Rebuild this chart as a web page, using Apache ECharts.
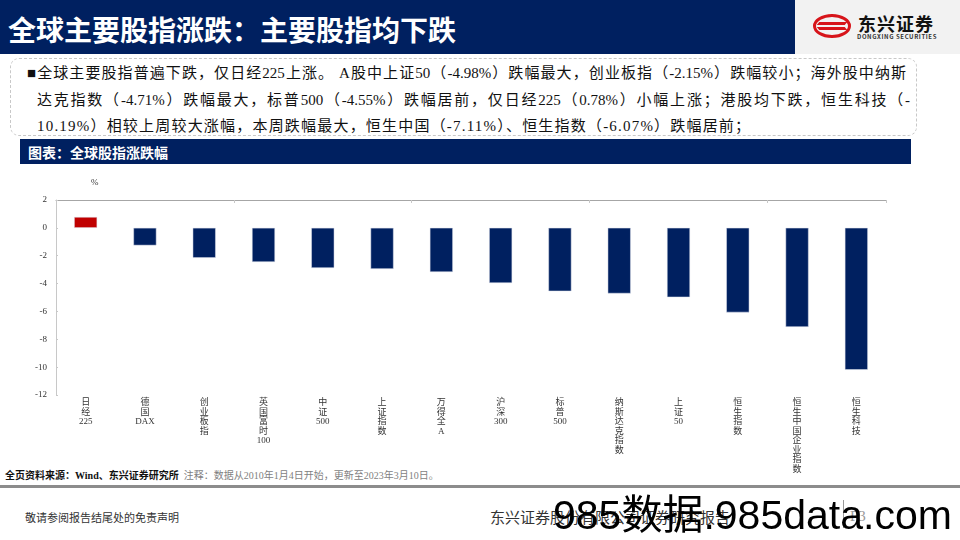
<!DOCTYPE html>
<html>
<head>
<meta charset="utf-8">
<script src="https://cdn.jsdelivr.net/npm/echarts@6/dist/echarts.min.js"></script>
<style>
  html, body { margin:0; padding:0; width:960px; height:540px; overflow:hidden; background:#fff; }
  .abs { position:absolute; }
  #chart { position:absolute; left:0; top:0; width:960px; height:540px; }
  .cn { font-family: "Liberation Serif", "Noto Sans CJK SC", serif; }
  .sans { font-family: "Noto Sans CJK SC", "Liberation Sans", sans-serif; }
  .jline { white-space:nowrap; text-align:justify; text-align-last:justify; }
</style>
</head>
<body>
<div class="abs" style="left:0;top:0;width:795px;height:54px;background:#002060;"></div>
<div class="abs" style="left:795px;top:0;width:165px;height:54px;background:#f2f2f2;"></div>
<div class="abs sans" style="left:8px;top:10px;font-size:28px;font-weight:bold;color:#fff;line-height:38px;white-space:nowrap;">全球主要股指涨跌：主要股指均下跌</div>
<!-- logo -->
<div class="abs" style="left:813px;top:14px;width:38px;height:24px;border:3px solid #d7141a;border-radius:50%;box-sizing:border-box;"></div>
<div class="abs" style="left:818px;top:22px;width:28px;height:3px;background:#d7141a;transform:skewX(-40deg);"></div>
<div class="abs" style="left:818px;top:27px;width:28px;height:3px;background:#d7141a;transform:skewX(40deg);"></div>
<div class="abs sans" style="left:858px;top:12px;font-size:18px;font-weight:bold;color:#111;line-height:22px;white-space:nowrap;letter-spacing:1px;">东兴证券</div>
<div class="abs sans" style="left:857px;top:33px;font-size:6px;font-weight:bold;color:#333;line-height:8px;white-space:nowrap;letter-spacing:0.6px;">DONGXING SECURITIES</div>

<!-- text box -->
<div class="abs" style="left:10px;top:58px;width:907px;height:78px;border:1px dashed #c8c8c8;border-radius:9px;box-sizing:border-box;"></div>
<div class="abs cn jline" style="left:27px;top:63px;width:879px;font-size:15px;line-height:20px;color:#111;">■全球主要股指普遍下跌，仅日经225上涨。 A股中上证50（-4.98%）跌幅最大，创业板指（-2.15%）跌幅较小；海外股中纳斯</div>
<div class="abs cn jline" style="left:37px;top:90px;width:873px;font-size:15px;line-height:20px;color:#111;">达克指数（-4.71%）跌幅最大，标普500（-4.55%）跌幅居前，仅日经225（0.78%）小幅上涨；港股均下跌，恒生科技（-</div>
<div class="abs cn" style="left:37px;top:116px;font-size:15px;line-height:20px;color:#111;white-space:nowrap;letter-spacing:1.2px;">10.19%）相较上周较大涨幅，本周跌幅最大，恒生中国（-7.11%）、恒生指数（-6.07%）跌幅居前；</div>

<!-- section header -->
<div class="abs" style="left:20px;top:139px;width:891px;height:25px;background:#002060;"></div>
<div class="abs sans" style="left:28px;top:141px;font-size:14px;font-weight:bold;color:#fff;line-height:22px;white-space:nowrap;">图表：全球股指涨跌幅</div>

<!-- footer -->
<div class="abs cn" style="left:5px;top:469px;font-size:10px;line-height:14px;white-space:nowrap;"><span style="color:#111;font-weight:bold;">全页资料来源：Wind、东兴证券研究所</span><span style="color:#7f7f7f;">&nbsp;&nbsp;注释：数据从2010年1月4日开始，更新至2023年3月10日。</span></div>
<div class="abs" style="left:0;top:485px;width:960px;height:3px;background:#8c8c8c;"></div>
<div class="abs cn" style="left:25px;top:510px;font-size:11px;line-height:16px;color:#333;white-space:nowrap;">敬请参阅报告结尾处的免责声明</div>
<div class="abs cn" style="left:490px;top:508px;font-size:15px;line-height:20px;color:#333;white-space:nowrap;">东兴证券股份有限公司证券研究报告</div>
<div class="abs" style="left:843px;top:500px;width:1px;height:28px;background:#999;"></div>
<div class="abs cn" style="left:850px;top:506px;font-size:15px;line-height:20px;color:#999;white-space:nowrap;">P3</div>
<div class="abs" style="left:553px;top:490px;font-family:'Liberation Sans','Noto Sans CJK SC',sans-serif;font-size:41px;line-height:50px;color:#000;white-space:nowrap;z-index:5;">985数据.985data.com</div>

<div id="chart"></div>
<script>
const categories = ['日经225','德国DAX','创业板指','英国富时100','中证500','上证指数','万得全A','沪深300','标普500','纳斯达克指数','上证50','恒生指数','恒生中国企业指数','恒生科技'];
const values = [0.78, -1.26, -2.15, -2.45, -2.88, -2.95, -3.17, -3.96, -4.55, -4.71, -4.98, -6.07, -7.11, -10.19];
const yTicks = [2, 0, -2, -4, -6, -8, -10, -12];
const upColor = '#C00000';
const downColor = '#002060';

const chart = echarts.init(document.getElementById('chart'), null, {renderer:'canvas'});
const labelFont = '"Liberation Serif", "Noto Sans CJK SC", serif';
// stack CJK chars vertically, keep Latin runs together
function verticalLabel(v) {
  const parts = v.match(/[A-Za-z0-9]+|./g) || [];
  return parts.join('\n');
}
chart.setOption({
  animation: false,
  backgroundColor: 'transparent',
  grid: { left: 56, width: 830, top: 200, height: 195, containLabel: false },
  graphic: [{
    type: 'text', left: 91, top: 178,
    style: { text: '%', font: '9px ' + labelFont, fill: '#333' }
  }],
  xAxis: [{
    type: 'category', data: categories, position: 'bottom',
    axisLine: { show: false }, axisTick: { show: false },
    axisLabel: {
      interval: 0, margin: 3, color: '#333', fontSize: 9, fontFamily: labelFont,
      lineHeight: 9.5, verticalAlign: 'top',
      formatter: verticalLabel
    }
  }, {
    type: 'category', data: categories,
    axisLine: { show: true, onZero: true, lineStyle: { color: '#a6a6a6', width: 1 } },
    axisTick: { show: true, inside: true, length: 3, lineStyle: { color: '#c8c8c8' } },
    axisLabel: { show: false }
  }],
  yAxis: {
    type: 'value', min: -12, max: 2, interval: 2,
    axisLine: { show: true, lineStyle: { color: '#c8c8c8' } },
    axisTick: { show: true, inside: true, length: 2, lineStyle: { color: '#c8c8c8' } },
    splitLine: { show: false },
    axisLabel: { color: '#333', fontSize: 9, fontFamily: labelFont, margin: 9 }
  },
  series: [{
    type: 'bar', xAxisIndex: 0, barWidth: 23,
    data: values.map(v => ({ value: v, itemStyle: { color: v >= 0 ? upColor : downColor } })),
    itemStyle: { borderColor: '#dfe3ec', borderWidth: 0.5 }
  }]
});
</script>
</body>
</html>
